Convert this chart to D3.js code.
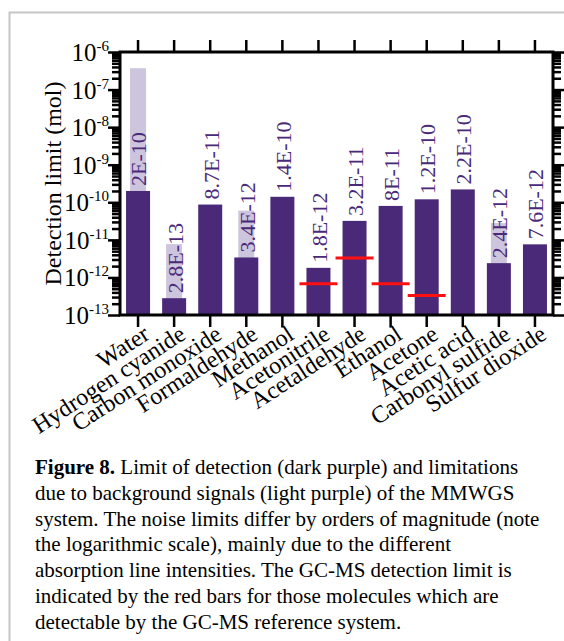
<!DOCTYPE html>
<html>
<head>
<meta charset="utf-8">
<title>Detection limits</title>
<script src="https://cdnjs.cloudflare.com/ajax/libs/d3/7.8.5/d3.min.js"></script>
<style>
  body { margin: 0; background: #fff; }
  text { font-family: "Liberation Serif", "Times New Roman", serif; }
</style>
</head>
<body>
<div id="chart"></div>
<script>
// Datos
const molecules = ["Water", "Hydrogen cyanide", "Carbon monoxide", "Formaldehyde", "Methanol",
  "Acetonitrile", "Acetaldehyde", "Ethanol", "Acetone", "Acetic acid", "Carbonyl sulfide", "Sulfur dioxide"];
const detectionLimit = [2e-10, 2.8e-13, 8.7e-11, 3.4e-12, 1.4e-10, 1.8e-12, 3.2e-11, 8e-11, 1.2e-10, 2.2e-10, 2.4e-12, 7.6e-12];
const detectionLabels = ["2E-10", "2.8E-13", "8.7E-11", "3.4E-12", "1.4E-10", "1.8E-12", "3.2E-11", "8E-11", "1.2E-10", "2.2E-10", "2.4E-12", "7.6E-12"];
const backgroundLimit = [3.7e-7, 7.7e-12, null, 6e-11, null, null, null, null, null, null, 2.8e-11, null];
const gcmsLimit = [null, null, null, null, null, 6.8e-13, 3.3e-12, 6.8e-13, 3.3e-13, null, null, null];
const decadeExponents = [-13, -12, -11, -10, -9, -8, -7, -6];
const captionLines = [
  ["Figure 8.", " Limit of detection (dark purple) and limitations"],
  ["", "due to background signals (light purple) of the MMWGS"],
  ["", "system. The noise limits differ by orders of magnitude (note"],
  ["", "the logarithmic scale), mainly due to the different"],
  ["", "absorption line intensities. The GC-MS detection limit is"],
  ["", "indicated by the red bars for those molecules which are"],
  ["", "detectable by the GC-MS reference system."]
];

const W = 564, H = 641;
const plot = { left: 120, right: 553, top: 52, bottom: 315 };
const dark = "#4a2a78", light = "#cdc4de", red = "#ff1010";

const svg = d3.select("#chart").append("svg")
  .attr("width", W).attr("height", H);

// Marco gris
svg.append("path")
  .attr("d", `M9.5,${H} V12.5 H${W}`)
  .attr("fill", "none").attr("stroke", "#c6c6c6").attr("stroke-width", 2);

// Escalas
const x = d3.scaleBand().domain(molecules).range([plot.left, plot.right]);
const y = d3.scaleLog().domain([1e-13, 1e-6]).range([plot.bottom, plot.top]);

const data = molecules.map((m, i) => ({
  name: m, det: detectionLimit[i], label: detectionLabels[i],
  bg: backgroundLimit[i], gc: gcmsLimit[i]
}));

// Barras claras (fondo)
svg.append("g").selectAll("rect")
  .data(data.filter(d => d.bg)).enter().append("rect")
  .attr("x", d => x(d.name) + x.bandwidth() / 2 - 8)
  .attr("width", 16)
  .attr("y", d => y(d.bg))
  .attr("height", d => y(1e-13) - y(d.bg))
  .attr("fill", light);

// Barras oscuras
svg.append("g").selectAll("rect")
  .data(data).enter().append("rect")
  .attr("x", d => x(d.name) + x.bandwidth() / 2 - 12)
  .attr("width", 24)
  .attr("y", d => y(d.det))
  .attr("height", d => y(1e-13) - y(d.det))
  .attr("fill", dark);

// Barras rojas GC-MS
svg.append("g").selectAll("line")
  .data(data.filter(d => d.gc)).enter().append("line")
  .attr("x1", d => x(d.name) + x.bandwidth() / 2 - 19)
  .attr("x2", d => x(d.name) + x.bandwidth() / 2 + 19)
  .attr("y1", d => y(d.gc)).attr("y2", d => y(d.gc))
  .attr("stroke", red).attr("stroke-width", 3);

// Etiquetas de valor
svg.append("g").selectAll("text")
  .data(data).enter().append("text")
  .attr("transform", d => `translate(${x(d.name) + x.bandwidth() / 2},${y(d.det) - 5}) rotate(-90)`)
  .attr("dy", "0.38em")
  .attr("font-size", 22)
  .attr("fill", dark)
  .text(d => d.label);

// Ejes Y (log) con marcas menores
const yTicks = [];
decadeExponents.forEach(e => {
  for (let k = 1; k <= 9; k++) {
    if (e === -6 && k > 1) break;
    yTicks.push(k * Math.pow(10, e));
  }
});
const isMajor = v => Math.abs(Math.log10(v) - Math.round(Math.log10(v))) < 1e-6;

function styleAxis(g, majorLen, minorLen, sign) {
  g.select(".domain").remove();
  g.selectAll(".tick line")
    .attr("stroke", "#000").attr("stroke-width", 2.5)
    .attr("x2", d => sign * (isMajor(d) ? majorLen : minorLen));
  g.selectAll(".tick text").remove();
}

svg.append("g")
  .attr("transform", `translate(${plot.left},0)`)
  .call(d3.axisLeft(y).tickValues(yTicks).tickFormat(""))
  .call(g => styleAxis(g, 12, 8, -1));

svg.append("g")
  .attr("transform", `translate(${plot.right},0)`)
  .call(d3.axisRight(y).tickValues(yTicks).tickFormat(""))
  .call(g => styleAxis(g, 12, 8, 1));

// Etiquetas 10^n
const yLab = svg.append("g").selectAll("text")
  .data(decadeExponents).enter().append("text")
  .attr("x", plot.left - 11)
  .attr("y", d => y(Math.pow(10, d)) + 9)
  .attr("text-anchor", "end")
  .attr("font-size", 25);
yLab.append("tspan").text("10");
yLab.append("tspan").attr("font-size", 15).attr("dy", -10).text(d => "-" + Math.abs(d));

// Ejes X arriba y abajo
const xTop = d3.axisTop(x).tickSize(12).tickFormat("");
svg.append("g")
  .attr("transform", `translate(0,${plot.top})`)
  .call(xTop)
  .call(g => g.select(".domain").remove())
  .call(g => g.selectAll(".tick line").attr("stroke-width", 2.5));

const xBottom = d3.axisBottom(x).tickSize(12).tickFormat("");
svg.append("g")
  .attr("transform", `translate(0,${plot.bottom})`)
  .call(xBottom)
  .call(g => g.select(".domain").remove())
  .call(g => g.selectAll(".tick line").attr("stroke-width", 2.5));

// Marco del gráfico
svg.append("rect")
  .attr("x", plot.left).attr("y", plot.top)
  .attr("width", plot.right - plot.left).attr("height", plot.bottom - plot.top)
  .attr("fill", "none").attr("stroke", "#000").attr("stroke-width", 3);

// Etiquetas de categorías
svg.append("g").selectAll("text")
  .data(molecules).enter().append("text")
  .attr("transform", d => `translate(${x(d) + x.bandwidth() / 2 + 13},${plot.bottom + 23}) rotate(-33)`)
  .attr("text-anchor", "end")
  .attr("font-size", 24)
  .text(d => d);

// Título del eje Y
svg.append("text")
  .attr("transform", `translate(61,${(plot.top + plot.bottom) / 2}) rotate(-90)`)
  .attr("text-anchor", "middle")
  .attr("font-size", 24)
  .text("Detection limit (mol)");

// Pie de figura
const cap = svg.append("g").selectAll("text")
  .data(captionLines).enter().append("text")
  .attr("x", 35)
  .attr("y", (d, i) => 474 + i * 25.8)
  .attr("font-size", 21);
cap.append("tspan").attr("font-weight", "bold").text(d => d[0]);
cap.append("tspan").text(d => d[1]);
</script>
</body>
</html>
